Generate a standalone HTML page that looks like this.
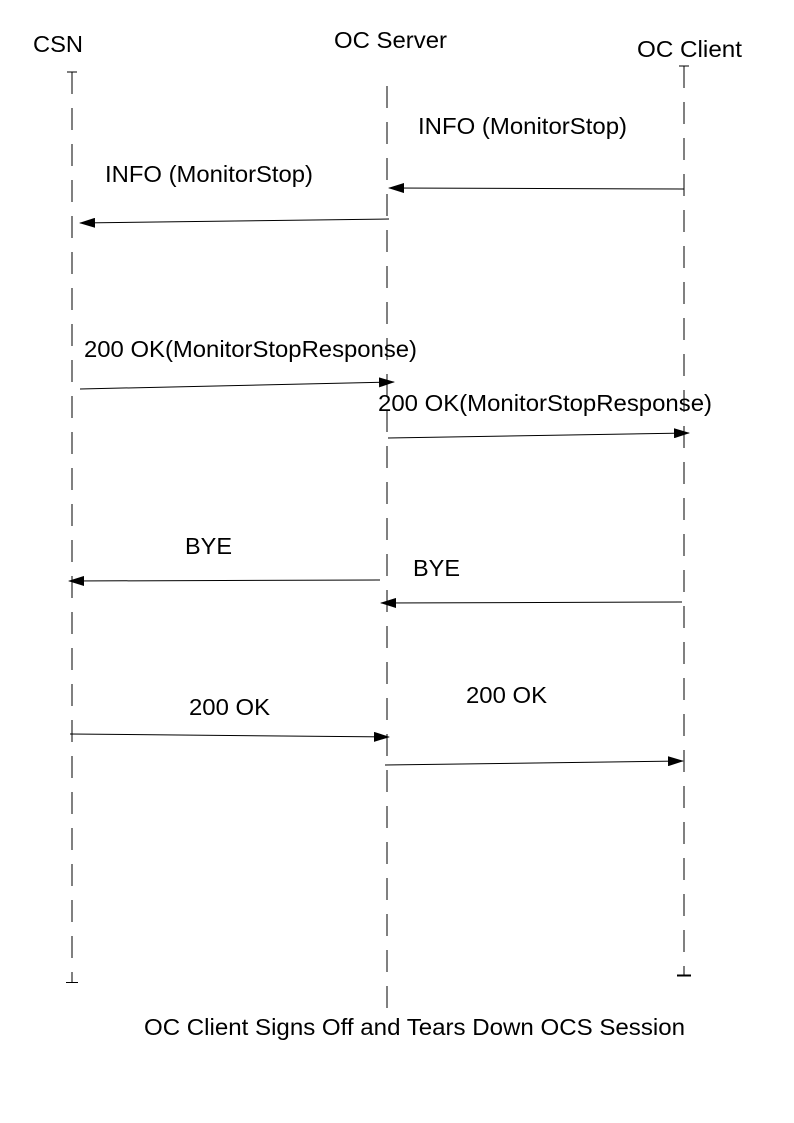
<!DOCTYPE html>
<html><head><meta charset="utf-8"><style>html,body{margin:0;padding:0;background:#fff}svg{display:block}</style></head>
<body>
<svg width="794" height="1123" viewBox="0 0 794 1123" xmlns="http://www.w3.org/2000/svg" font-family="Liberation Sans, Arial, sans-serif" font-size="23" fill="#000">
<defs><marker id="a" markerWidth="16" markerHeight="10" refX="15" refY="5" orient="auto" markerUnits="userSpaceOnUse"><path d="M0,0 L16,5 L0,10 Z" fill="#000"/></marker></defs>
<g stroke="#000" stroke-width="1" fill="none">
<line x1="72" y1="72" x2="72" y2="982" stroke-dasharray="22,14"/>
<line x1="67" y1="72" x2="77" y2="72"/>
<line x1="66" y1="982.5" x2="78" y2="982.5"/>
<line x1="387" y1="86" x2="387" y2="1015" stroke-dasharray="22,14"/>
<line x1="684" y1="66" x2="684" y2="975" stroke-dasharray="22,14"/>
<line x1="679" y1="66" x2="689" y2="66"/>
<line x1="677" y1="975.5" x2="691" y2="975.5" stroke-width="2"/>
<line x1="684" y1="189" x2="389" y2="188" marker-end="url(#a)"/>
<line x1="389" y1="219" x2="80" y2="223" marker-end="url(#a)"/>
<line x1="80" y1="389" x2="394" y2="382" marker-end="url(#a)"/>
<line x1="388" y1="438" x2="689" y2="433" marker-end="url(#a)"/>
<line x1="380" y1="580" x2="69" y2="581" marker-end="url(#a)"/>
<line x1="682" y1="602" x2="381" y2="603" marker-end="url(#a)"/>
<line x1="70" y1="734" x2="389" y2="737" marker-end="url(#a)"/>
<line x1="385" y1="765" x2="683" y2="761" marker-end="url(#a)"/>
</g>
<text x="33" y="52" textLength="50" lengthAdjust="spacingAndGlyphs">CSN</text>
<text x="334" y="48" textLength="113" lengthAdjust="spacingAndGlyphs">OC Server</text>
<text x="637" y="57" textLength="105" lengthAdjust="spacingAndGlyphs">OC Client</text>
<text x="418" y="134" textLength="209" lengthAdjust="spacingAndGlyphs">INFO (MonitorStop)</text>
<text x="105" y="182" textLength="208" lengthAdjust="spacingAndGlyphs">INFO (MonitorStop)</text>
<text x="84" y="357" textLength="333" lengthAdjust="spacingAndGlyphs">200 OK(MonitorStopResponse)</text>
<text x="378" y="411" textLength="334" lengthAdjust="spacingAndGlyphs">200 OK(MonitorStopResponse)</text>
<text x="185" y="554" textLength="47" lengthAdjust="spacingAndGlyphs">BYE</text>
<text x="413" y="576" textLength="47" lengthAdjust="spacingAndGlyphs">BYE</text>
<text x="189" y="715" textLength="81" lengthAdjust="spacingAndGlyphs">200 OK</text>
<text x="466" y="703" textLength="81" lengthAdjust="spacingAndGlyphs">200 OK</text>
<text x="144" y="1035" textLength="541" lengthAdjust="spacingAndGlyphs">OC Client Signs Off and Tears Down OCS Session</text>
</svg>
</body></html>
